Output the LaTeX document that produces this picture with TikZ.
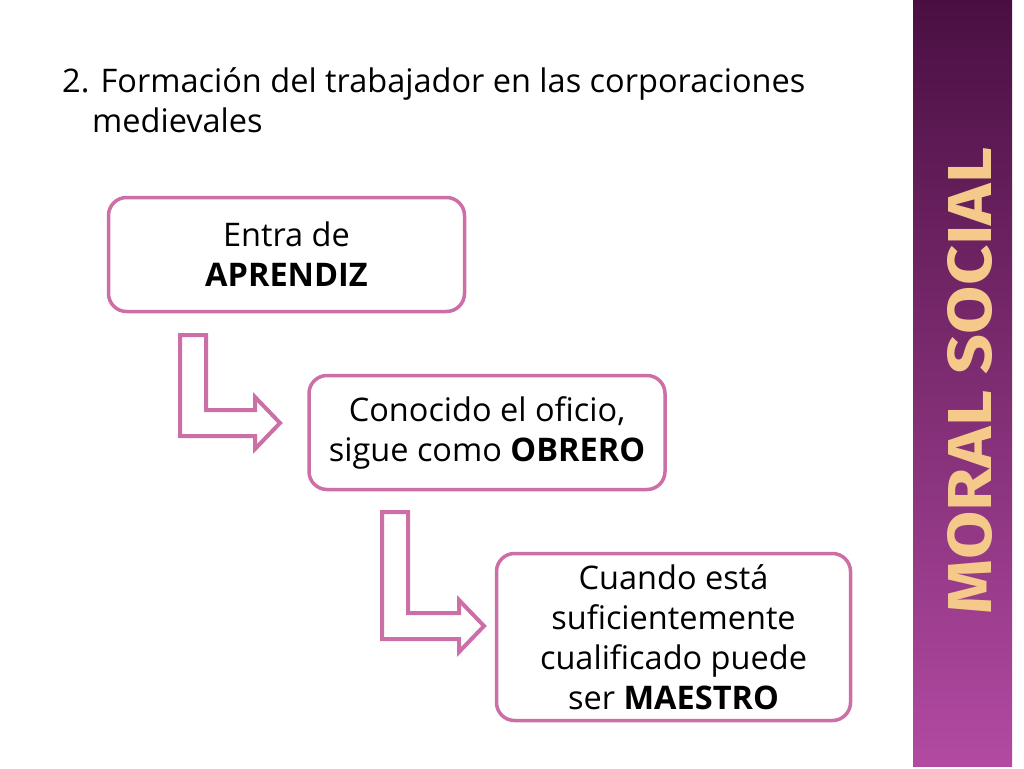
\documentclass[tikz,border=0pt]{standalone}
\usepackage{fontspec}
\setmainfont{Open Sans}
\newfontfamily\barfont{Fira Sans}
\begin{document}
\begin{tikzpicture}[x=1pt,y=-1pt,
  box/.style={draw=boxpink,line width=3.5pt,rounded corners=18pt,fill=white,inner sep=0pt,align=center,font=\fontsize{32.5}{40}\selectfont},
  larrow/.style={draw=boxpink,line width=4pt,line join=miter}]
\definecolor{boxpink}{HTML}{CC6FA6}
\definecolor{bartop}{HTML}{4A0F42}
\definecolor{barbot}{HTML}{B24AA2}
\definecolor{gold}{HTML}{F5C98A}
\useasboundingbox (0,0) rectangle (1024,768);
\fill[white] (0,0) rectangle (1024,768);
\shade[top color=bartop,bottom color=barbot] (913,0) rectangle (1012,766);
\node[font=\barfont\bfseries\fontsize{62}{62}\selectfont,text=gold,rotate=90,inner sep=0pt] (bar) at (970,381) {\scalebox{1.13}[1]{MORAL SOCIAL}};
\node[anchor=base west,inner sep=0pt,font=\fontsize{32.5}{30}\selectfont] (t1) at (62,92) {2. Formación del trabajador en las corporaciones};
\node[anchor=base west,inner sep=0pt,font=\fontsize{32.5}{30}\selectfont] (t2) at (92,132) {medievales};
\node[box,minimum width=356pt,minimum height=114pt] (b1) at (286.5,254.5) {Entra de\\\textbf{APRENDIZ}};
\node[box,minimum width=356pt,minimum height=114pt] (b2) at (487,432.5) {Conocido el oficio,\\sigue como \textbf{OBRERO}};
\node[box,minimum width=354pt,minimum height=167pt] (b3) at (673.5,637) {Cuando está\\suficientemente\\cualificado puede\\ser \textbf{MAESTRO}};
\coordinate (a1) at (180,335);
\draw[larrow] (a1) -- ++(26,0) -- ++(0,75) -- ++(49,0) -- ++(0,-13) -- ++(25,26) -- ++(-25,26) -- ++(0,-13) -- ++(-75,0) -- cycle;
\coordinate (a2) at (382,512);
\draw[larrow] (a2) -- ++(26,0) -- ++(0,101) -- ++(51,0) -- ++(0,-13) -- ++(25,26) -- ++(-25,26) -- ++(0,-13) -- ++(-77,0) -- cycle;
\end{tikzpicture}
\end{document}
